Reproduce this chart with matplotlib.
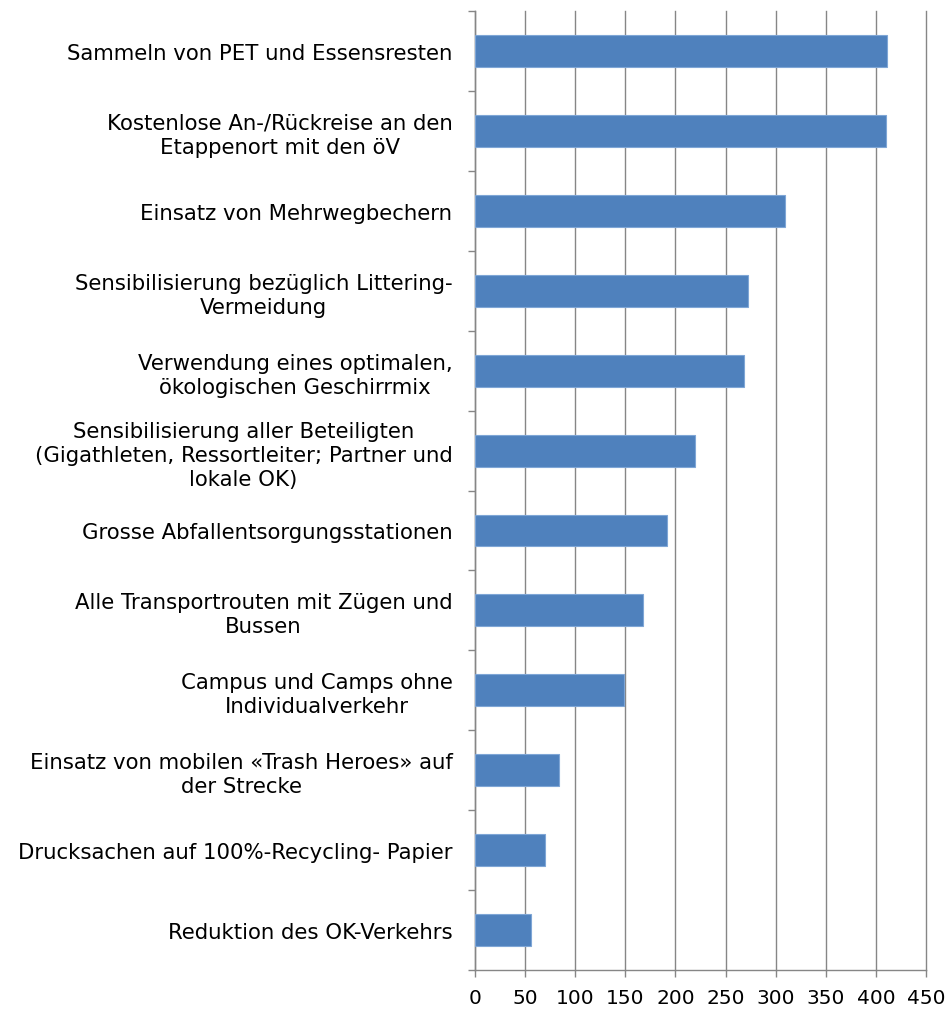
import numpy as np
import matplotlib

matplotlib.use('Agg')
import matplotlib.pyplot as plt

# Massnahmen (von oben nach unten) und Anzahl Nennungen
categories = [
    'Sammeln von PET und Essensresten',
    'Kostenlose An-/Rückreise an den\nEtappenort mit den öV',
    'Einsatz von Mehrwegbechern',
    'Sensibilisierung bezüglich Littering-\nVermeidung',
    'Verwendung eines optimalen,\nökologischen Geschirrmix',
    'Sensibilisierung aller Beteiligten\n(Gigathleten, Ressortleiter; Partner und\nlokale OK)',
    'Grosse Abfallentsorgungsstationen',
    'Alle Transportrouten mit Zügen und\nBussen',
    'Campus und Camps ohne\nIndividualverkehr',
    'Einsatz von mobilen «Trash Heroes» auf\nder Strecke',
    'Drucksachen auf 100%-Recycling- Papier',
    'Reduktion des OK-Verkehrs',
]
values = [411, 410, 309, 272, 268, 219, 192, 168, 149, 84, 70, 56]
x_ticks = [0, 50, 100, 150, 200, 250, 300, 350, 400, 450]

plt.rcParams['font.family'] = ['DejaVu Sans']
grid_col = '#868686'

fig = plt.figure(figsize=(9.5, 10.12), dpi=100)
ax = fig.add_axes([0.4997, 0.0405, 0.4754, 0.9476])

y = np.arange(len(categories))
ax.barh(y, values, height=0.4, color='#4F81BD', edgecolor='#7FA6D6',
        linewidth=0.8, zorder=3)

ax.set_ylim(len(categories) - 0.5, -0.5)
ax.set_xlim(0, 450)

# Kategorie-Beschriftungen in der Mitte, Teilstriche an den Grenzen
ax.set_yticks(y)
ax.set_yticklabels(categories, fontsize=15.3, multialignment='center',
                   linespacing=1.25)
ax.tick_params(axis='y', which='major', length=0, pad=16)
ax.set_yticks(np.arange(len(categories) + 1) - 0.5, minor=True)
ax.tick_params(axis='y', which='minor', length=5, width=1, color=grid_col,
               direction='out')

ax.set_xticks(x_ticks)
ax.set_xticklabels([str(t) for t in x_ticks], fontsize=14.5)
ax.tick_params(axis='x', length=5, width=1, color=grid_col, pad=8)

ax.xaxis.grid(True, color=grid_col, linewidth=1.0, zorder=0)
for gl in ax.get_xgridlines():
    gl.set_clip_on(False)
ax.set_axisbelow(True)

for side in ['top', 'right']:
    ax.spines[side].set_visible(False)
for side in ['left', 'bottom']:
    ax.spines[side].set_color(grid_col)
    ax.spines[side].set_linewidth(1.0)

plt.savefig('out.png', dpi=100, facecolor='white')
plt.close()
